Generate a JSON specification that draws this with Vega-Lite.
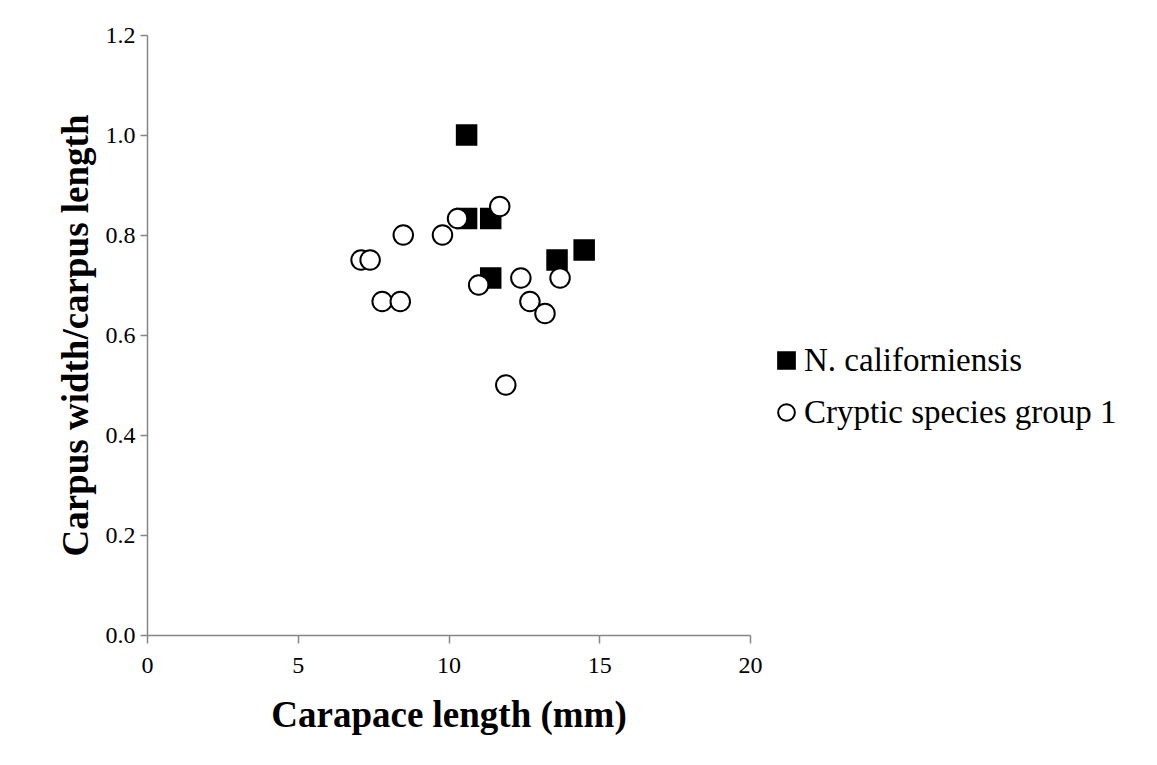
{
  "$schema": "https://vega.github.io/schema/vega-lite/v6.json",
  "autosize": {"type": "none"},
  "width": 603,
  "height": 600,
  "padding": {"left": 147, "top": 35, "right": 407, "bottom": 130},
  "background": "white",
  "config": {
    "font": "Liberation Serif",
    "view": {"stroke": null},
    "axis": {"grid": false, "domainColor": "#868686", "tickColor": "#868686", "domainWidth": 1.5, "tickWidth": 1.5, "labelColor": "black", "titleColor": "black", "labelFont": "Liberation Serif", "titleFont": "Liberation Serif"},
    "legend": {"labelFont": "Liberation Serif"}
  },
  "data": {
    "values": [
      {"species": "N. californiensis", "cl": 10.6, "ratio": 1.0},
      {"species": "N. californiensis", "cl": 10.6, "ratio": 0.833},
      {"species": "N. californiensis", "cl": 11.4, "ratio": 0.833},
      {"species": "N. californiensis", "cl": 11.4, "ratio": 0.714},
      {"species": "N. californiensis", "cl": 13.6, "ratio": 0.75},
      {"species": "N. californiensis", "cl": 14.5, "ratio": 0.77},
      {"species": "Cryptic species group 1", "cl": 7.1, "ratio": 0.75},
      {"species": "Cryptic species group 1", "cl": 7.4, "ratio": 0.75},
      {"species": "Cryptic species group 1", "cl": 8.5, "ratio": 0.8},
      {"species": "Cryptic species group 1", "cl": 7.8, "ratio": 0.667},
      {"species": "Cryptic species group 1", "cl": 8.4, "ratio": 0.667},
      {"species": "Cryptic species group 1", "cl": 9.8, "ratio": 0.8},
      {"species": "Cryptic species group 1", "cl": 10.3, "ratio": 0.833},
      {"species": "Cryptic species group 1", "cl": 11.7, "ratio": 0.857},
      {"species": "Cryptic species group 1", "cl": 11.0, "ratio": 0.7},
      {"species": "Cryptic species group 1", "cl": 12.4, "ratio": 0.714},
      {"species": "Cryptic species group 1", "cl": 13.7, "ratio": 0.714},
      {"species": "Cryptic species group 1", "cl": 12.7, "ratio": 0.667},
      {"species": "Cryptic species group 1", "cl": 13.2, "ratio": 0.643},
      {"species": "Cryptic species group 1", "cl": 11.9, "ratio": 0.5}
    ]
  },
  "mark": {"type": "point", "filled": true, "stroke": "black", "strokeWidth": 2, "opacity": 1, "size": 380},
  "encoding": {
    "x": {
      "field": "cl", "type": "quantitative",
      "scale": {"domain": [0, 20], "nice": false, "zero": true},
      "axis": {"values": [0, 5, 10, 15, 20], "title": "Carapace length (mm)", "labelFontSize": 24, "titleFontSize": 37, "titleFontWeight": "bold", "tickSize": 8, "labelPadding": 10, "titlePadding": 20, "labelFlush": false}
    },
    "y": {
      "field": "ratio", "type": "quantitative",
      "scale": {"domain": [0, 1.2], "nice": false},
      "axis": {"values": [0, 0.2, 0.4, 0.6, 0.8, 1.0, 1.2], "format": ".1f", "title": "Carpus width/carpus length", "labelFontSize": 24, "titleFontSize": 37, "titleFontWeight": "bold", "tickSize": 7, "labelPadding": 5, "titlePadding": 10, "labelFlush": false}
    },
    "fill": {
      "field": "species", "type": "nominal",
      "scale": {"domain": ["N. californiensis", "Cryptic species group 1"], "range": ["black", "white"]},
      "legend": {"title": null, "orient": "none", "legendX": 623, "legendY": 309, "labelFontSize": 33, "labelColor": "black", "symbolSize": 280, "symbolStrokeColor": "black", "symbolStrokeWidth": 2, "rowPadding": 18, "labelOffset": 1, "labelLimit": 500}
    },
    "shape": {
      "field": "species", "type": "nominal",
      "scale": {"domain": ["N. californiensis", "Cryptic species group 1"], "range": ["square", "circle"]}
    }
  }
}
